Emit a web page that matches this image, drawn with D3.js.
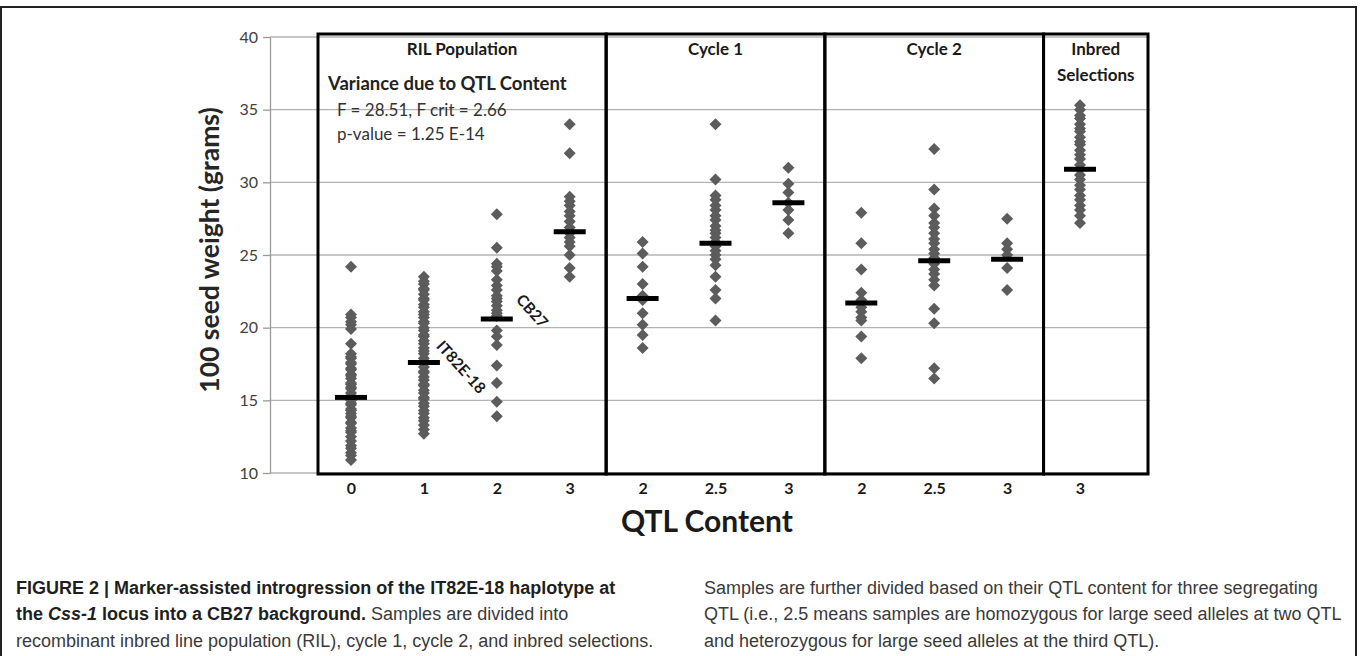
<!DOCTYPE html>
<html>
<head>
<meta charset="utf-8">
<script src="https://cdn.jsdelivr.net/npm/d3@7"></script>
<style>
  body { margin: 0; background: #fff; }
  svg { display: block; }
</style>
</head>
<body>
<svg id="chart" width="1360" height="656"></svg>
<script>
// QTL content tick labels, one per column
const qtlLabels = ["0", "1", "2", "3", "2", "2.5", "3", "2", "2.5", "3", "3"];

// 100 seed weight (grams)
const ril0 = [24.2, 20.9, 20.7, 20.4, 20.2, 19.9, 18.9, 18.2, 18.0, 17.9, 17.6, 17.5, 17.2, 17.1, 16.8, 16.7, 16.5, 16.2, 16.1, 15.9, 15.8, 15.5, 15.3, 15.2, 15.0, 14.8, 14.7, 14.4, 14.3, 14.1, 13.9, 13.8, 13.5, 13.4, 13.1, 12.9, 12.8, 12.5, 12.2, 11.9, 11.7, 11.4, 11.2, 10.9];
const ril1 = [23.5, 23.2, 23.0, 22.7, 22.6, 22.3, 22.0, 21.9, 21.6, 21.4, 21.1, 20.9, 20.7, 20.4, 20.3, 20.0, 19.8, 19.5, 19.4, 19.1, 18.9, 18.6, 18.4, 18.2, 17.9, 17.7, 17.6, 17.3, 17.0, 16.9, 16.6, 16.4, 16.1, 16.0, 15.7, 15.5, 15.2, 15.1, 14.8, 14.6, 14.3, 14.1, 13.8, 13.6, 13.3, 13.0, 12.7];
const ril2 = [27.8, 25.5, 24.4, 24.2, 23.9, 23.3, 22.9, 22.6, 22.2, 22.0, 21.8, 21.5, 21.2, 21.0, 20.8, 19.8, 19.4, 18.8, 17.4, 16.2, 14.9, 13.9];
const ril3 = [34.0, 32.0, 29.0, 28.7, 28.4, 28.0, 27.7, 27.3, 26.9, 26.5, 26.2, 25.9, 25.6, 25.0, 24.1, 23.5];
const cycle1Q2 = [25.9, 25.1, 24.2, 23.0, 22.2, 21.9, 21.0, 20.2, 19.5, 18.6];
const cycle1Q25 = [34.0, 30.2, 29.1, 28.8, 28.4, 28.1, 27.7, 27.4, 27.0, 26.7, 26.5, 26.2, 25.9, 25.6, 25.3, 25.0, 24.7, 24.3, 23.5, 22.6, 22.0, 20.5];
const cycle1Q3 = [31.0, 29.9, 29.3, 28.6, 28.1, 27.4, 26.5];
const cycle2Q2 = [27.9, 25.8, 24.0, 22.4, 21.9, 21.4, 21.1, 20.7, 20.5, 19.4, 17.9];
const cycle2Q25 = [32.3, 29.5, 28.2, 27.7, 27.2, 26.9, 26.5, 26.1, 25.8, 25.4, 25.1, 24.8, 24.4, 24.0, 23.7, 23.3, 22.9, 21.3, 20.3, 17.2, 16.5];
const cycle2Q3 = [27.5, 25.8, 25.4, 25.0, 24.1, 22.6];
const inbredQ3 = [35.3, 35.0, 34.6, 34.4, 34.0, 33.7, 33.5, 33.1, 32.8, 32.6, 32.2, 31.9, 31.6, 31.2, 30.9, 30.5, 30.2, 29.8, 29.5, 29.1, 28.8, 28.4, 28.1, 27.7, 27.2];

const columns = [ril0, ril1, ril2, ril3, cycle1Q2, cycle1Q25, cycle1Q3, cycle2Q2, cycle2Q25, cycle2Q3, inbredQ3];

// group means (black bars)
const means = [15.2, 17.6, 20.6, 26.6, 22.0, 25.8, 28.6, 21.7, 24.6, 24.7, 30.9];

// population boxes
const groupNames = [["RIL Population"], ["Cycle 1"], ["Cycle 2"], ["Inbred", "Selections"]];
const groupFirst = [0, 4, 7, 10];
const groupLast = [3, 6, 9, 10];

const yTicks = [10, 15, 20, 25, 30, 35, 40];

const svg = d3.select('#chart');
const font = 'Lato, "Open Sans", sans-serif';

// outer figure frame
svg.append('rect')
    .attr('x', 1).attr('y', 7)
    .attr('width', 1355).attr('height', 700)
    .attr('fill', 'none')
    .attr('stroke', '#222')
    .attr('stroke-width', 2);

const plotLeft = 270, plotRight = 1150;

const y = d3.scaleLinear().domain([10, 40]).range([473, 37]);
const x = d3.scalePoint()
    .domain(d3.range(qtlLabels.length))
    .range([351, 1080]);

// gridlines
svg.append('g')
    .selectAll('line')
    .data(yTicks)
    .join('line')
    .attr('x1', plotLeft).attr('x2', plotRight)
    .attr('y1', d => y(d)).attr('y2', d => y(d))
    .attr('stroke', '#b3b3b3')
    .attr('stroke-width', 1.3);

// y axis
const yAxis = svg.append('g')
    .attr('transform', `translate(${plotLeft},0)`)
    .call(d3.axisLeft(y).tickValues(yTicks).tickSize(7).tickPadding(5).tickSizeOuter(0));
yAxis.select('.domain').attr('stroke', '#9a9a9a').attr('stroke-width', 1.3);
yAxis.selectAll('.tick line').attr('stroke', '#9a9a9a').attr('stroke-width', 1.3);
yAxis.selectAll('.tick text')
    .attr('font-family', font)
    .attr('font-size', 16)
    .attr('fill', '#404040');

// x tick labels
const xAxis = svg.append('g')
    .attr('transform', 'translate(0,478)')
    .call(d3.axisBottom(x).tickFormat(i => qtlLabels[i]).tickSize(0).tickPadding(5));
xAxis.select('.domain').remove();
xAxis.selectAll('.tick text')
    .attr('font-family', font)
    .attr('font-size', 16)
    .attr('font-weight', 'bold')
    .attr('fill', '#1a1a1a');

// population boxes
const step = x.step();
const padLeft = [33, step / 2, step / 2, step / 2];
const padRight = [step / 2, step / 2, step / 2, 68];
const boxTop = 34, boxBottom = 474;

const boxes = groupNames.map((name, i) => ({
    name,
    x0: x(groupFirst[i]) - padLeft[i],
    x1: x(groupLast[i]) + padRight[i]
}));

svg.append('g')
    .selectAll('rect')
    .data(boxes)
    .join('rect')
    .attr('x', d => d.x0)
    .attr('y', boxTop)
    .attr('width', d => d.x1 - d.x0)
    .attr('height', boxBottom - boxTop)
    .attr('fill', 'none')
    .attr('stroke', '#000')
    .attr('stroke-width', 3);

const labels = svg.append('g')
    .attr('font-family', font)
    .attr('font-weight', 'bold')
    .attr('font-size', 17)
    .attr('fill', '#1a1a1a')
    .attr('text-anchor', 'middle');

boxes.forEach(b => {
    b.name.forEach((line, j) => {
        labels.append('text')
            .attr('x', (b.x0 + b.x1) / 2)
            .attr('y', 55 + j * 26)
            .text(line);
    });
});

// diamonds
const diamond = d3.symbol().type(d3.symbolSquare).size(72);
const points = columns.flatMap((vals, i) => vals.map(v => ({ i, v })));

svg.append('g')
    .selectAll('path')
    .data(points)
    .join('path')
    .attr('d', diamond)
    .attr('transform', d => `translate(${x(d.i)},${y(d.v)}) rotate(45)`)
    .attr('fill', '#5c5c5c');

// mean bars
svg.append('g')
    .selectAll('line')
    .data(means)
    .join('line')
    .attr('x1', (d, i) => x(i) - 16)
    .attr('x2', (d, i) => x(i) + 16)
    .attr('y1', d => y(d))
    .attr('y2', d => y(d))
    .attr('stroke', '#000')
    .attr('stroke-width', 5);

// statistics annotation
const stats = svg.append('g').attr('font-family', font).attr('fill', '#222');
stats.append('text')
    .attr('x', 328).attr('y', 90)
    .attr('font-size', 18.5).attr('font-weight', 'bold')
    .text('Variance due to QTL Content');
stats.append('text')
    .attr('x', 337).attr('y', 116)
    .attr('font-size', 17)
    .attr('fill', '#333')
    .text('F = 28.51, F crit = 2.66');
stats.append('text')
    .attr('x', 337).attr('y', 140)
    .attr('font-size', 17)
    .attr('fill', '#333')
    .text('p-value = 1.25 E-14');

// parent labels
const parents = [
    { text: 'IT82E-18', cx: 460, cy: 368 },
    { text: 'CB27', cx: 531, cy: 312 }
];
svg.append('g')
    .selectAll('text')
    .data(parents)
    .join('text')
    .attr('transform', d => `translate(${d.cx},${d.cy}) rotate(48)`)
    .attr('text-anchor', 'middle')
    .attr('dominant-baseline', 'middle')
    .attr('font-family', font)
    .attr('font-weight', 'bold')
    .attr('font-size', 15.5)
    .attr('fill', '#1a1a1a')
    .text(d => d.text);

// axis titles
svg.append('text')
    .attr('transform', 'translate(212,250) rotate(-90)')
    .attr('text-anchor', 'middle')
    .attr('dominant-baseline', 'middle')
    .attr('font-family', font)
    .attr('font-weight', 'bold')
    .attr('font-size', 26.5)
    .attr('fill', '#262626')
    .text('100 seed weight (grams)');

svg.append('text')
    .attr('x', 707).attr('y', 532)
    .attr('text-anchor', 'middle')
    .attr('font-family', font)
    .attr('font-weight', 'bold')
    .attr('font-size', 30)
    .attr('fill', '#1a1a1a')
    .text('QTL Content');

// caption
const capFont = '"Liberation Sans Narrow", "Liberation Sans", sans-serif';
const cap = svg.append('g')
    .attr('font-family', capFont)
    .attr('font-size', 18)
    .attr('fill', '#3a3a3a');

const capLines = [
    { x: 16, y: 594, parts: [{ t: 'FIGURE 2 | Marker-assisted introgression of the IT82E-18 haplotype at', b: true }] },
    { x: 16, y: 620, parts: [
        { t: 'the ', b: true }, { t: 'Css-1', b: true, i: true },
        { t: ' locus into a CB27 background.', b: true },
        { t: ' Samples are divided into' }] },
    { x: 16, y: 647, parts: [{ t: 'recombinant inbred line population (RIL), cycle 1, cycle 2, and inbred selections.' }] },
    { x: 704, y: 594, parts: [{ t: 'Samples are further divided based on their QTL content for three segregating' }] },
    { x: 704, y: 620, parts: [{ t: 'QTL (i.e., 2.5 means samples are homozygous for large seed alleles at two QTL' }] },
    { x: 704, y: 647, parts: [{ t: 'and heterozygous for large seed alleles at the third QTL).' }] }
];

capLines.forEach(l => {
    const t = cap.append('text')
        .attr('x', l.x).attr('y', l.y);
    l.parts.forEach(p => {
        t.append('tspan')
            .attr('font-weight', p.b ? 'bold' : null)
            .attr('font-style', p.i ? 'italic' : null)
            .attr('fill', p.b ? '#1f1f1f' : null)
            .text(p.t);
    });
});
</script>
</body>
</html>
